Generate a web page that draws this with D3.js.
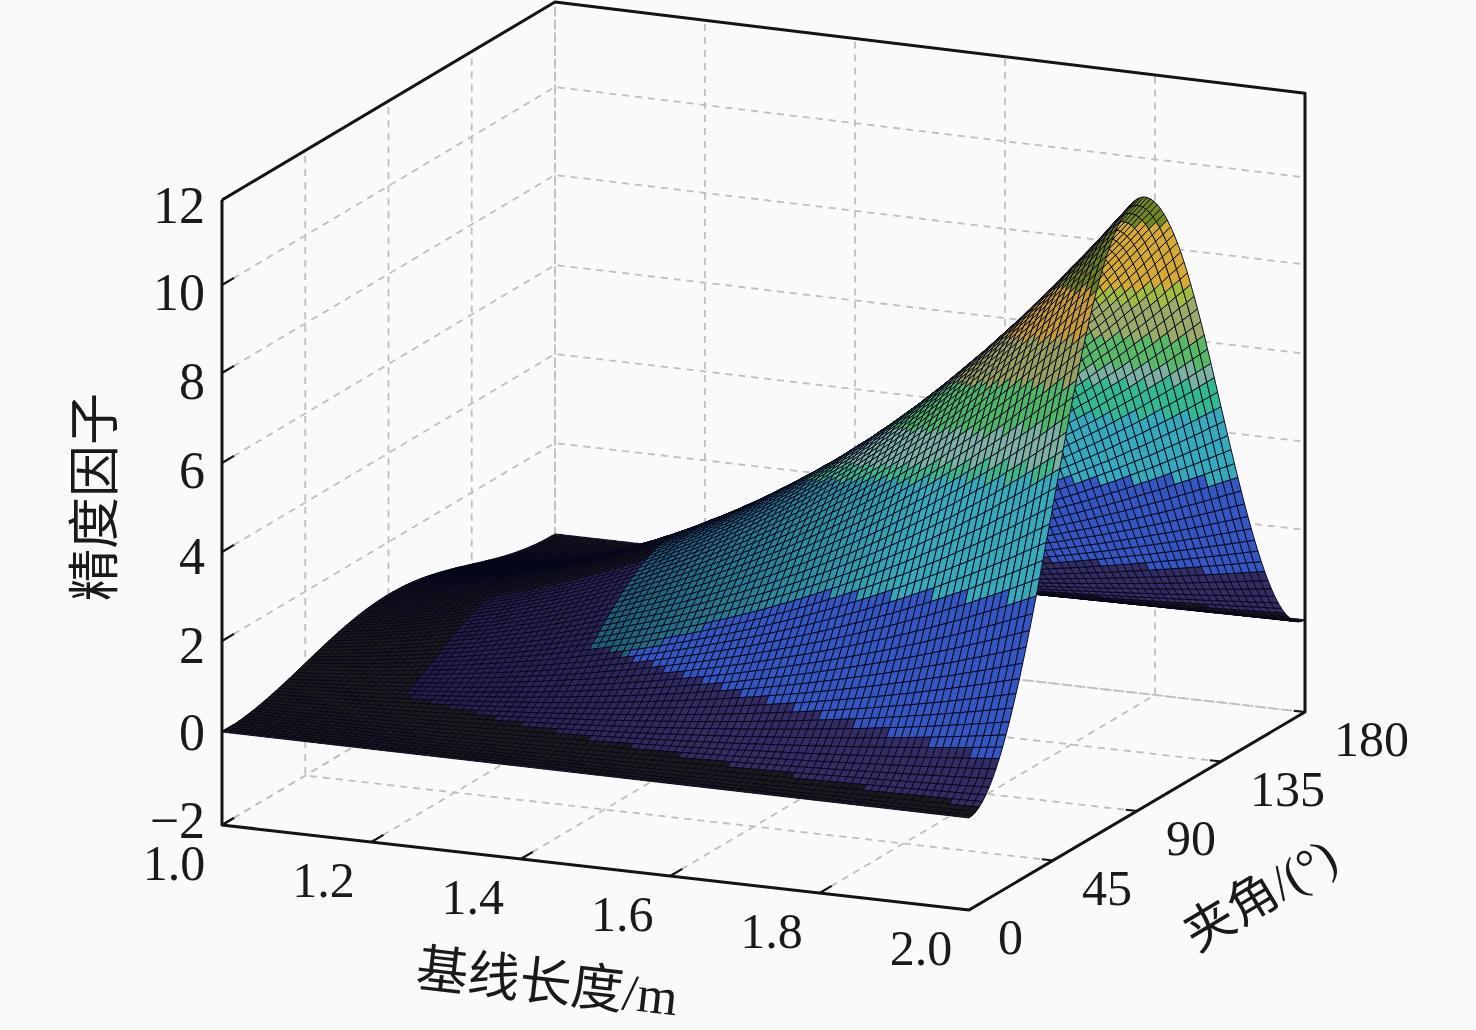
<!DOCTYPE html>
<html><head><meta charset="utf-8">
<script src="https://d3js.org/d3.v7.min.js"></script>
<style>html,body{margin:0;padding:0;background:#fafafa}svg{display:block}</style>
</head><body><svg id="c" width="1476" height="1030"></svg>
<script>
const ridgeHeight = [0.85,0.88,0.92,0.95,0.99,1.02,1.06,1.10,1.14,1.18,1.22,1.26,1.31,1.35,1.40,1.45,1.50,1.55,1.60,1.65,1.70,
1.75,1.81,1.87,1.93,1.99,2.05,2.11,2.17,2.24,2.30,2.37,2.44,2.51,2.58,2.66,2.73,2.81,2.89,2.97,3.05,
3.14,3.23,3.31,3.40,3.49,3.58,3.68,3.77,3.87,3.97,4.07,4.18,4.28,4.39,4.50,4.61,4.72,4.84,4.95,5.07,
5.19,5.32,5.45,5.57,5.70,5.84,5.97,6.11,6.25,6.39,6.53,6.68,6.83,6.98,7.13,7.29,7.45,7.61,7.77,7.93,
8.10,8.28,8.45,8.63,8.80,8.99,9.18,9.37,9.55,9.74,9.94,10.15,10.35,10.55,10.76,10.97,11.19,11.41,11.62,11.84];
// Share of the ridge height across the angle, 0 .. 90 deg in steps of 1.8 deg (end profile reads symmetric about 90 deg)
const sectionHalf = [0,.0010,.0039,.0089,.0157,.0245,.0351,.0476,.0618,.0778,.0955,.1147,.1355,.1577,.1813,.2061,.2321,.2591,.2871,.3159,.3455,.3757,.4063,.4373,.4686,.5,
.5314,.5627,.5937,.6243,.6545,.6841,.7129,.7409,.7679,.7939,.8187,.8423,.8645,.8853,.9045,.9222,.9382,.9524,.9649,.9755,.9843,.9911,.9961,.9990,1];
const sectionShare = sectionHalf.concat(sectionHalf.slice(0,-1).reverse());

const xTicks = [1.0,1.2,1.4,1.6,1.8,2.0];
const yTicks = [0,45,90,135,180];
const zTicks = [-2,0,2,4,6,8,10,12];
const zTickLabels = ["\u22122","0","2","4","6","8","10","12"];
const zLabelShift = [-5,0,4,4,7,8,7,5];
const xTitle = "基线长度/m", yTitle = "夹角/(°)", zTitle = "精度因子";
// Colour bands seen in the picture: they run level across the page, so they are keyed on page height
const frontRows = [290,340,385,430,465,480];
const frontColors = ["#6c7e22","#c49a3a","#98a060","#50b468","#7cb0a0","#40b488","#37a9b8"];
const backRows = [223,287,303,337,368,383,415];
const backColors = ["#708820","#d4aa34","#a0bc40","#9aaa68","#58b868","#7cb0a0","#34b890","#37a9bd"];
const blackColor = "#1a1a1a", purpleDark = "#221d48", purpleColor = "#342d64", blueColor = "#3356c0", darkTeal = "#1f5f78";

const svg = d3.select("#c");
svg.append("rect").attr("width",1476).attr("height",1030).attr("fill","#fafafa");

const uS = d3.scaleLinear().domain([1,2]).range([0,1]);
const vS = d3.scaleLinear().domain([0,180]).range([0,1]);
const zS = d3.scaleLinear().domain(zTicks).range([0,93,184,273,362,452,540,625]);
function proj(x,y,z){
  const u=uS(x), v=vS(y);
  const px = 222 + 747*u + 336*v*(0.991+0.009*u);
  const py = 825 + 85*u - 198*v - zS(z)*(1-0.01*u);
  return [px,py];
}
const lineP = d3.line();
const xs = ridgeHeight.map((_,i)=>1+i/100), ys = sectionShare.map((_,j)=>j*1.8);
const zAt = (i,j)=>ridgeHeight[i]*sectionShare[j];

// grid
const gridG = svg.append("g").attr("fill","none").attr("stroke","#bfbfbf").attr("stroke-width",1.8).attr("stroke-dasharray","7 6");
const gridLines = [];
zTicks.forEach(z=>{ gridLines.push([proj(1,0,z),proj(1,180,z),proj(2,180,z)]); });
xTicks.forEach(x=>{ gridLines.push([proj(x,0,-2),proj(x,180,-2),proj(x,180,12)]); });
yTicks.forEach(y=>{ gridLines.push([proj(2,y,-2),proj(1,y,-2),proj(1,y,12)]); });
gridG.selectAll("path").data(gridLines).join("path").attr("d",lineP);

// axes box
const box = svg.append("g").attr("fill","none").attr("stroke","#141414").attr("stroke-width",3).attr("stroke-linejoin","round");
box.append("path").attr("d",lineP([proj(1,0,12),proj(1,0,-2),proj(2,0,-2),proj(2,180,-2),proj(2,180,12),proj(1,180,12),proj(1,0,12)]));
const tickG = svg.append("g").attr("stroke","#141414").attr("stroke-width",2.2).attr("fill","none");
xTicks.forEach(x=>tickG.append("path").attr("d",lineP([proj(x,0,-2),proj(x,6.5,-2)])));
yTicks.forEach(y=>tickG.append("path").attr("d",lineP([proj(2,y,-2),proj(1.985,y,-2)])));
zTicks.forEach(z=>tickG.append("path").attr("d",lineP([proj(1,0,z),proj(1,6.5,z)])));

// surface, far cells first
const tealStart = d3.scaleLinear().domain([0.43,0.66,1]).range([1.5,3.2,4.1]).clamp(true);
const blueStart = d3.scaleLinear().domain([0.43,1]).range([1.5,0.9]).clamp(true);
const blackEnd = d3.scaleLinear().domain([0.16,1]).range([0.4,0.12]).clamp(true);
const frontBand = d3.scaleThreshold().domain(frontRows).range(frontColors);
const backBand = d3.scaleThreshold().domain(backRows).range(backColors);
const tealFade = d3.scaleLinear().domain([0.4,0.8]).range([0,1]).clamp(true);
const purpleFade = d3.scaleLinear().domain([0.16,0.6]).range([0,1]).clamp(true);
const purpleAt = u=>d3.interpolateRgb(purpleDark,purpleColor)(purpleFade(u));
function cellColor(z,u,v,row){
  if(v>0.5){                       // far side of the ridge
    if(z<0.4) return blackColor;
    if(u<0.375) return blackColor;
    if(z<1.5) return purpleColor;
    if(row>480) return blueColor;
    return backBand(row);
  }
  if(u<0.16 || z<blackEnd(u)) return blackColor;
  if(u<0.375) return v>0.42 ? blackColor : purpleAt(u);
  if(z<blueStart(u)) return purpleAt(u);
  if(z<tealStart(u)) return blueColor;
  if(row>480) return d3.interpolateRgb(darkTeal,frontColors[6])(tealFade(u));
  return frontBand(row);
}
const cells=[];
for(let j=ys.length-2;j>=0;j--){
  for(let i=0;i<xs.length-1;i++){
    const z=(zAt(i,j)+zAt(i+1,j)+zAt(i,j+1)+zAt(i+1,j+1))/4;
    const pts=[proj(xs[i],ys[j],zAt(i,j)),proj(xs[i+1],ys[j],zAt(i+1,j)),proj(xs[i+1],ys[j+1],zAt(i+1,j+1)),proj(xs[i],ys[j+1],zAt(i,j+1))];
    cells.push({pts,c:cellColor(z,uS(xs[i]),vS(ys[j]),d3.mean(pts,p=>p[1]))});
  }
}
svg.append("g").attr("stroke","#06061a").attr("stroke-width",0.95).attr("stroke-linejoin","round")
 .selectAll("path").data(cells).join("path")
 .attr("d",d=>lineP(d.pts)+"Z").attr("fill",d=>d.c);

// labels
const FONT = "'Liberation Serif','Noto Sans CJK SC',serif";
const txt = svg.append("g").attr("font-family",FONT).attr("font-size",50).attr("fill","#1a1a1a");
txt.selectAll(".zt").data(zTicks).join("text").attr("class","zt").attr("font-size",52)
 .attr("x",205).attr("y",(d,i)=>proj(1,0,d)[1]+zLabelShift[i]).attr("dy","0.34em").attr("text-anchor","end")
 .text((d,i)=>zTickLabels[i]);
txt.selectAll(".xt").data(xTicks).join("text").attr("class","xt")
 .attr("x",d=>proj(d,0,-2)[0]-48).attr("y",d=>proj(d,0,-2)[1]+38).attr("dy","0.34em").attr("text-anchor","middle")
 .text(d=>d3.format(".1f")(d));
txt.selectAll(".yt").data(yTicks).join("text").attr("class","yt")
 .attr("x",d=>proj(2,d,-2)[0]+29).attr("y",d=>proj(2,d,-2)[1]+27).attr("dy","0.34em").attr("text-anchor","start")
 .text(d=>d);
txt.append("text").attr("font-size",52).attr("transform","translate(547,983) rotate(6.5)").attr("text-anchor","middle").attr("dy","0.34em").text(xTitle);
txt.append("text").attr("transform","translate(1260,895) rotate(-31)").attr("text-anchor","middle").attr("dy","0.34em").text(yTitle);
txt.append("text").attr("font-size",52).attr("transform","translate(95,497) rotate(-90)").attr("text-anchor","middle").attr("dy","0.34em").text(zTitle);
</script></body></html>
